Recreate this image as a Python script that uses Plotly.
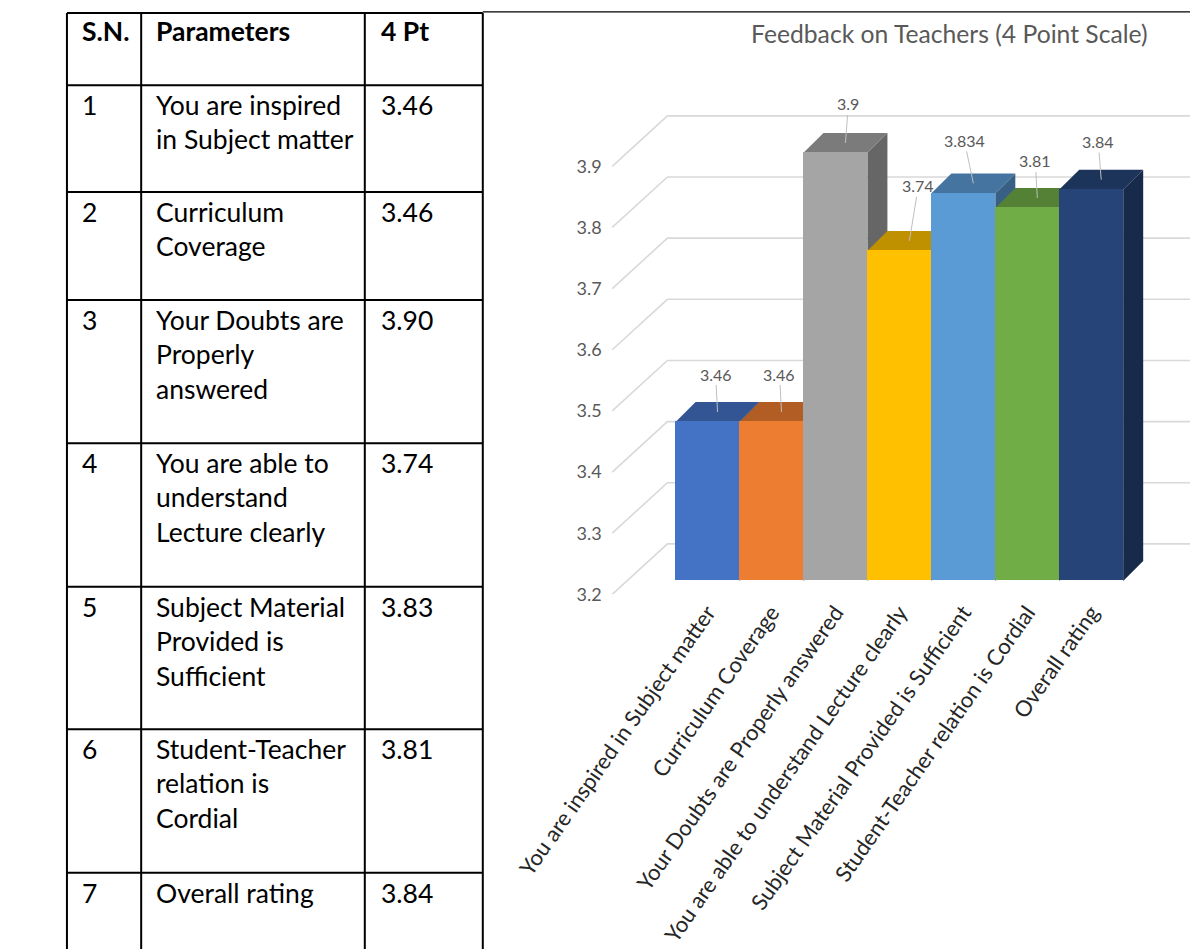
import plotly.graph_objects as go

# ---------------- data ----------------
CATEGORIES = [
    "You are inspired in Subject matter",
    "Curriculum Coverage",
    "Your Doubts are Properly answered",
    "You are able to understand Lecture clearly",
    "Subject Material Provided is Sufficient",
    "Student-Teacher relation is Cordial",
    "Overall rating",
]
VALUES = [3.46, 3.46, 3.9, 3.74, 3.834, 3.81, 3.84]
Y_TICKS = [3.2, 3.3, 3.4, 3.5, 3.6, 3.7, 3.8, 3.9]
TITLE = "Feedback on Teachers (4 Point Scale)"

TABLE_HEADERS = ["S.N.", "Parameters", "4 Pt"]
TABLE_SN = ["1", "2", "3", "4", "5", "6", "7"]
TABLE_PARAMS = [
    ["You are inspired", "in Subject matter"],
    ["Curriculum", "Coverage"],
    ["Your Doubts are", "Properly", "answered"],
    ["You are able to", "understand", "Lecture clearly"],
    ["Subject Material", "Provided is", "Sufficient"],
    ["Student-Teacher", "relation is", "Cordial"],
    ["Overall rating"],
]
TABLE_SCORES = ["3.46", "3.46", "3.90", "3.74", "3.83", "3.81", "3.84"]

# ---------------- style / geometry ----------------
BAR_COLORS = ["#4472C4", "#ED7D31", "#A5A5A5", "#FFC000", "#5B9BD5", "#70AD47", "#264478"]
W, H = 1198, 949
PAGE_MARGIN = 8          # default body margin of the html page
FONT = "Lato"

COL_X = [9, 87, 322, 446]
ROW_Y = [13, 86, 194, 303, 448, 593, 737, 882, 960]
TEXT_X = [23, 101, 337]
TABLE_FONT_SIZE = 26.5

PLOT_LEFT, PLOT_TOP, FLOOR_FRONT = 540, 60, 600.6
BAR0_CENTER, BAR_PX = 682.2, 67.2
PX_PER_UNIT = 618.0
BAR_LIFT = 13.6
WALL_FRONT_X, WALL_DX, WALL_DY = 582, 58, 51
DEPTH_DX, DEPTH_DY = 21, 20
LABEL_OFFSETS = [(-2, -38), (-2, -38), (3, -39), (9, -55), (-9, -43), (-2, -37), (-3, -38)]
GRID_COLOR = "#D9D9D9"
TEXT_GRAY = "#595959"


def shade(hex_color, f):
    h = hex_color.lstrip("#")
    r, g, b = (int(h[i:i + 2], 16) for i in (0, 2, 4))
    return "rgb(%d,%d,%d)" % (r * f, g * f, b * f)


def px2x(px):
    return (px - BAR0_CENTER) / BAR_PX


def paper_x(px):
    return (px - PAGE_MARGIN) / W


def paper_y(py):
    return 1 - (py - PAGE_MARGIN) / H


BASE = Y_TICKS[0]
right_px = W + PAGE_MARGIN
x_range = [px2x(PLOT_LEFT), px2x(right_px)]
span = (FLOOR_FRONT - PLOT_TOP) / PX_PER_UNIT
y_range = [BASE, BASE + span]
y_bar_range = [BASE - BAR_LIFT / PX_PER_UNIT, BASE - BAR_LIFT / PX_PER_UNIT + span]
dom_x = [paper_x(PLOT_LEFT), 1]
dom_y = [paper_y(FLOOR_FRONT), paper_y(PLOT_TOP)]

fig = go.Figure()

# wall / floor gridlines (floor-front plane coordinates)
gx, gy = [], []
for v in Y_TICKS:
    gx += [px2x(WALL_FRONT_X), px2x(WALL_FRONT_X + WALL_DX), x_range[1], None]
    gy += [v, v + WALL_DY / PX_PER_UNIT, v + WALL_DY / PX_PER_UNIT, None]
fig.add_trace(go.Scatter(x=gx, y=gy, mode="lines", line=dict(color=GRID_COLOR, width=1.6),
                         hoverinfo="skip", showlegend=False, xaxis="x", yaxis="y"))

# 3D faces (bar plane), drawn left to right beneath the front faces
ddx = DEPTH_DX / BAR_PX
ddy = DEPTH_DY / PX_PER_UNIT
for i, (v, c) in enumerate(zip(VALUES, BAR_COLORS)):
    sx = [i + 0.5, i + 0.5, i + 0.5 + ddx, i + 0.5 + ddx, i + 0.5]
    sy = [BASE, v, v + ddy, BASE + ddy, BASE]
    fig.add_trace(go.Scatter(x=sx, y=sy, fill="toself", mode="lines", line=dict(width=0),
                             fillcolor=shade(c, 0.62), hoverinfo="skip", showlegend=False,
                             xaxis="x2", yaxis="y2"))
    tx = [i - 0.5, i + 0.5, i + 0.5 + ddx, i - 0.5 + ddx, i - 0.5]
    ty = [v, v, v + ddy, v + ddy, v]
    fig.add_trace(go.Scatter(x=tx, y=ty, fill="toself", mode="lines", line=dict(width=0),
                             fillcolor=shade(c, 0.75), hoverinfo="skip", showlegend=False,
                             xaxis="x2", yaxis="y2"))

# front faces
fig.add_trace(go.Bar(x=list(range(len(VALUES))), y=[v - BASE for v in VALUES], base=BASE,
                     width=1, marker=dict(color=BAR_COLORS, line=dict(width=0)),
                     customdata=VALUES, hovertemplate="%{customdata}<extra></extra>",
                     showlegend=False, xaxis="x3", yaxis="y3"))

annotations = []
# data labels with leader lines
for i, v in enumerate(VALUES):
    ox, oy = LABEL_OFFSETS[i]
    annotations.append(dict(
        x=i + ddx / 2, y=v + ddy / 2, xref="x3", yref="y3", text=f"{v:g}",
        showarrow=True, arrowhead=0, arrowwidth=1, arrowcolor="#BFBFBF",
        ax=ox, ay=oy, font=dict(family=FONT, size=16, color=TEXT_GRAY)))

# chart title
annotations.append(dict(x=paper_x(936), y=paper_y(34), xref="paper", yref="paper",
                        text=TITLE, showarrow=False, xanchor="center", yanchor="middle",
                        font=dict(family=FONT, size=24.7, color=TEXT_GRAY)))

# table text
for j, htxt in enumerate(TABLE_HEADERS):
    annotations.append(dict(x=paper_x(TEXT_X[j]), y=paper_y(ROW_Y[0]), xref="paper",
                            yref="paper", text="<b>%s</b>" % htxt, showarrow=False,
                            xanchor="left", yanchor="top", align="left",
                            font=dict(family=FONT, size=TABLE_FONT_SIZE, color="black")))
for r in range(len(TABLE_SN)):
    top = ROW_Y[r + 1] + 2
    cells = [TABLE_SN[r], "<br>".join(TABLE_PARAMS[r]), TABLE_SCORES[r]]
    for j, t in enumerate(cells):
        annotations.append(dict(x=paper_x(TEXT_X[j]), y=paper_y(top), xref="paper",
                                yref="paper", text=t, showarrow=False, xanchor="left",
                                yanchor="top", align="left",
                                font=dict(family=FONT, size=TABLE_FONT_SIZE, color="black")))

# table lines
shapes = []
for x in COL_X:
    shapes.append(dict(type="line", xref="paper", yref="paper", x0=paper_x(x), x1=paper_x(x),
                       y0=paper_y(ROW_Y[0]), y1=paper_y(ROW_Y[-1]), line=dict(color="black", width=2)))
for y in ROW_Y[:-1]:
    shapes.append(dict(type="line", xref="paper", yref="paper", x0=paper_x(COL_X[0]),
                       x1=paper_x(COL_X[-1]), y0=paper_y(y), y1=paper_y(y),
                       line=dict(color="black", width=2)))
shapes.append(dict(type="line", xref="paper", yref="paper", x0=paper_x(COL_X[-1]), x1=paper_x(1197),
                   y0=paper_y(12), y1=paper_y(12), line=dict(color="black", width=1.2)))

hidden = dict(visible=False, fixedrange=True)
fig.update_layout(
    width=W, height=H, margin=dict(l=0, r=0, t=0, b=0),
    paper_bgcolor="white", plot_bgcolor="rgba(0,0,0,0)",
    font=dict(family=FONT), showlegend=False, bargap=0,
    xaxis=dict(domain=dom_x, range=x_range, showgrid=False, zeroline=False, showline=False,
               tickmode="array", tickvals=list(range(len(CATEGORIES))), ticktext=CATEGORIES,
               tickangle=-55, ticks="", tickfont=dict(family=FONT, size=22, color="#262626"),
               fixedrange=True),
    yaxis=dict(domain=dom_y, range=y_range, showgrid=False, zeroline=False, showline=False,
               tickmode="array", tickvals=Y_TICKS, ticktext=[f"{v:.1f}" for v in Y_TICKS],
               ticks="", anchor="free", position=paper_x(571),
               tickfont=dict(family=FONT, size=18, color=TEXT_GRAY), fixedrange=True),
    xaxis2=dict(overlaying="x", range=x_range, **hidden),
    yaxis2=dict(overlaying="y", range=y_bar_range, **hidden),
    xaxis3=dict(overlaying="x", range=x_range, **hidden),
    yaxis3=dict(overlaying="y", range=y_bar_range, **hidden),
    annotations=annotations, shapes=shapes,
)

fig.write_html("out.html")
